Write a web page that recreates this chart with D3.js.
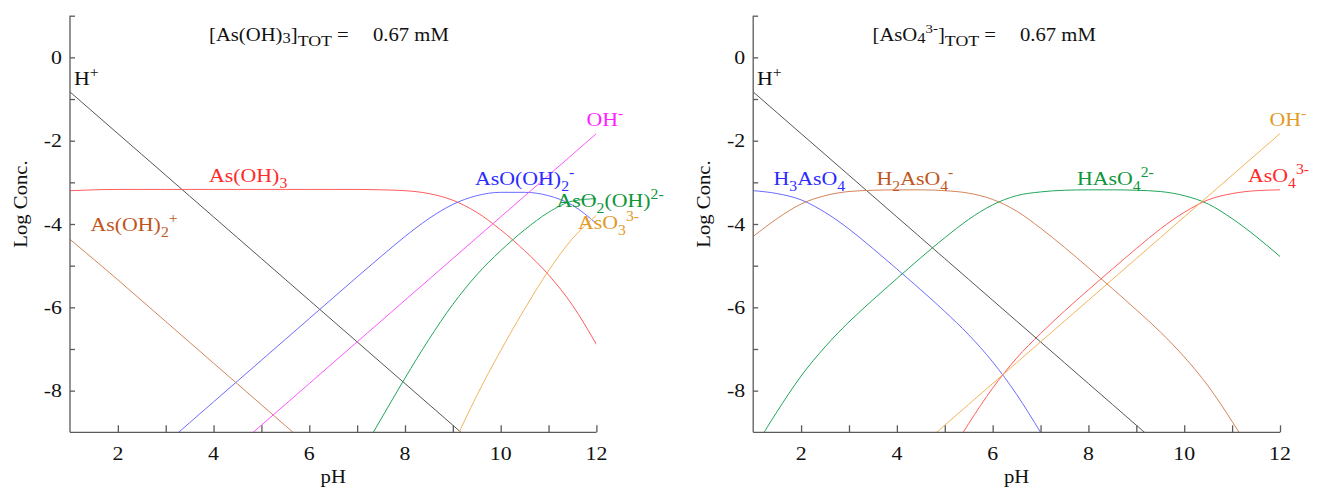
<!DOCTYPE html>
<html>
<head>
<meta charset="utf-8">
<script src="https://cdnjs.cloudflare.com/ajax/libs/d3/7.8.5/d3.min.js"></script>
<style>
  body { margin: 0; background: #fff; }
  svg { font-family: "Liberation Serif", "Times New Roman", serif; }
</style>
</head>
<body>
<div id="chart"></div>
<script>
var pH = [1, 1.5, 2, 2.5, 3, 3.5, 4, 4.5, 5, 5.5, 6, 6.5, 7, 7.5, 8, 8.5, 9, 9.5, 10, 10.5, 11, 11.5, 12];

// common to both panels
var hPlus   = [-0.83, -1.33, -1.83, -2.33, -2.83, -3.33, -3.83, -4.33, -4.83, -5.33, -5.83, -6.33, -6.83, -7.33, -7.83, -8.33, -8.83, -9.33, null, null, null, null, null];
var ohMinus = [null, null, null, null, null, null, null, -9.33, -8.83, -8.33, -7.83, -7.33, -6.83, -6.33, -5.83, -5.33, -4.83, -4.33, -3.83, -3.33, -2.83, -2.33, -1.83];

// arsenite panel
var asOH3     = [-3.20, -3.18, -3.17, -3.17, -3.17, -3.17, -3.17, -3.17, -3.17, -3.17, -3.17, -3.17, -3.17, -3.18, -3.20, -3.27, -3.43, -3.72, -4.14, -4.64, -5.22, -5.95, -6.89];
var asOH2plus = [-4.37, -4.85, -5.34, -5.84, -6.34, -6.84, -7.34, -7.84, -8.34, -8.84, -9.34, null, null, null, null, null, null, null, null, null, null, null, null];
var asOOH2    = [-11.30, -10.78, -10.27, -9.77, -9.27, -8.77, -8.27, -7.77, -7.27, -6.77, -6.27, -5.77, -5.27, -4.78, -4.30, -3.87, -3.53, -3.32, -3.24, -3.24, -3.32, -3.55, -3.99];
var asO2OH    = [null, null, null, null, null, null, null, null, null, null, -11.67, -10.67, -9.67, -8.68, -7.70, -6.77, -5.93, -5.22, -4.64, -4.14, -3.72, -3.45, -3.39];
var asO3      = [null, null, null, null, null, null, null, null, null, null, null, null, null, null, -12.10, -10.67, -9.33, -8.12, -7.04, -6.04, -5.12, -4.35, -3.79];

// arsenate panel
var h3AsO4 = [-3.20, -3.27, -3.42, -3.72, -4.12, -4.59, -5.08, -5.58, -6.10, -6.66, -7.31, -8.09, -9.00, -9.96, null, null, null, null, null, null, null, null, null];
var h2AsO4 = [-4.30, -3.87, -3.52, -3.32, -3.22, -3.19, -3.18, -3.18, -3.20, -3.26, -3.41, -3.69, -4.10, -4.56, -5.05, -5.55, -6.06, -6.59, -7.19, -7.89, -8.74, -9.67, -10.65];
var hAsO4  = [-9.43, -8.50, -7.65, -6.95, -6.35, -5.82, -5.31, -4.81, -4.33, -3.89, -3.54, -3.32, -3.23, -3.19, -3.18, -3.18, -3.19, -3.22, -3.32, -3.52, -3.87, -4.30, -4.78];
var asO4   = [null, null, null, null, null, null, -11.71, -10.71, -9.73, -8.79, -7.94, -7.22, -6.63, -6.09, -5.58, -5.08, -4.59, -4.12, -3.72, -3.42, -3.27, -3.20, -3.18];

// tick labels
var xTickLabels = [2, 4, 6, 8, 10, 12];
var yTickLabels = [0, -2, -4, -6, -8];
var totalText = "0.67 mM";

var width = 1319, height = 491;
var stretch = 1.15;

var col = {
  black:   ["#555555", "#111111"],
  red:     ["#ff5c5c", "#ff2a2a"],
  brown:   ["#d4845a", "#c0561c"],
  blue:    ["#6b6bff", "#2b2bff"],
  magenta: ["#ff55ff", "#ff1fff"],
  green:   ["#22a55a", "#0f963a"],
  orange:  ["#f2b45a", "#e29a28"]
};

var panels = [
  {
    x0: 70, x1: 596.4,
    title: [["[As(OH)"], ["3", "low"], ["]"], ["TOT", "tot"], [" ="]], titleX: 209, valueX: 373,
    series: [
      {v: hPlus, c: "black", lab: [["H"], ["+", "sup"]], lx: 74, ly: 85},
      {v: asOH3, c: "red", lab: [["As(OH)"], ["3", "sub"]], lx: 209, ly: 182},
      {v: asOH2plus, c: "brown", lab: [["As(OH)"], ["2", "sub"], ["+", "sup"]], lx: 90.5, ly: 231},
      {v: asOOH2, c: "blue", lab: [["AsO(OH)"], ["2", "sub"], ["-", "sup"]], lx: 475, ly: 185},
      {v: ohMinus, c: "magenta", lab: [["OH"], ["-", "sup"]], lx: 586.5, ly: 126},
      {v: asO2OH, c: "green", lab: [["AsO"], ["2", "sub"], ["(OH)"], ["2-", "sup"]], lx: 556.5, ly: 207},
      {v: asO3, c: "orange", lab: [["AsO"], ["3", "sub"], ["3-", "sup"]], lx: 578, ly: 229}
    ]
  },
  {
    x0: 753.2, x1: 1280,
    title: [["[AsO"], ["4", "low"], ["3-", "sup"], ["]"], ["TOT", "tot"], [" ="]], titleX: 872.5, valueX: 1020,
    series: [
      {v: hPlus, c: "black", lab: [["H"], ["+", "sup"]], lx: 757, ly: 85},
      {v: h3AsO4, c: "blue", lab: [["H"], ["3", "sub"], ["AsO"], ["4", "sub"]], lx: 773.5, ly: 185},
      {v: h2AsO4, c: "brown", lab: [["H"], ["2", "sub"], ["AsO"], ["4", "sub"], ["-", "sup"]], lx: 876.5, ly: 185},
      {v: hAsO4, c: "green", lab: [["HAsO"], ["4", "sub"], ["2-", "sup"]], lx: 1077, ly: 185},
      {v: asO4, c: "red", lab: [["AsO"], ["4", "sub"], ["3-", "sup"]], lx: 1248, ly: 182},
      {v: ohMinus, c: "orange", lab: [["OH"], ["-", "sup"]], lx: 1269.5, ly: 126}
    ]
  }
];

var yTop = 15.7, yBottom = 432.3;

var svg = d3.select("#chart")
    .append("svg")
    .attr("width", width)
    .attr("height", height);

// text with sub- and superscripts, slightly widened like the original
function label(g, x, y, parts, color, size, anchor) {
  var t = g.append("text")
      .attr("transform", "translate(" + x + "," + y + ") scale(" + stretch + ",1)")
      .attr("font-size", size)
      .attr("fill", color)
      .attr("text-anchor", anchor || "start");
  var shift = 0;
  parts.forEach(function(p) {
    var kind = p[1] || "n";
    var target = 0, fs = size;
    if (kind == "sub") { target = 0.3 * size; fs = 0.72 * size; }
    if (kind == "tot") { target = 0.28 * size; fs = 0.86 * size; }
    if (kind == "low") { target = 0.12 * size; fs = 0.8 * size; }
    if (kind == "sup") { target = -0.42 * size; fs = 0.72 * size; }
    t.append("tspan")
        .attr("dy", target - shift)
        .attr("font-size", fs)
        .text(p[0]);
    shift = target;
  });
  return t;
}

panels.forEach(function(p, pi) {
  var x = d3.scaleLinear().domain([1, 12]).range([p.x0, p.x1]);
  var y = d3.scaleLinear().domain([-9, 1]).range([yBottom, yTop]);

  var g = svg.append("g").attr("class", "panel");

  g.append("clipPath")
      .attr("id", "clip" + pi)
    .append("rect")
      .attr("x", p.x0)
      .attr("y", yTop)
      .attr("width", p.x1 - p.x0)
      .attr("height", yBottom - yTop);

  // curves
  var line = d3.line()
      .defined(function(d) { return d[1] != null; })
      .x(function(d) { return x(d[0]); })
      .y(function(d) { return y(d[1]); })
      .curve(d3.curveMonotoneX);

  p.series.forEach(function(s) {
    g.append("path")
        .datum(pH.map(function(v, i) { return [v, s.v[i]]; }))
        .attr("clip-path", "url(#clip" + pi + ")")
        .attr("fill", "none")
        .attr("stroke", col[s.c][0])
        .attr("stroke-width", 1)
        .attr("d", line);
  });

  // axes: ticks point inward, labels only on even values
  var xAxis = d3.axisTop(x)
      .tickValues(d3.range(2, 13))
      .tickSize(7)
      .tickFormat("");
  g.append("g")
      .attr("transform", "translate(0," + yBottom + ")")
      .call(xAxis)
      .call(function(a) {
        a.select(".domain").attr("d", "M" + p.x0 + ",0H" + p.x1);
        a.selectAll("line, path").attr("stroke", "#5a5a5a").attr("stroke-width", 1.3);
      });

  var yAxis = d3.axisRight(y)
      .tickValues(d3.range(-8, 2))
      .tickSize(5)
      .tickFormat("");
  g.append("g")
      .attr("transform", "translate(" + p.x0 + ",0)")
      .call(yAxis)
      .call(function(a) {
        a.select(".domain").attr("d", "M0," + yTop + "V" + yBottom);
        a.selectAll("line, path").attr("stroke", "#5a5a5a").attr("stroke-width", 1.3);
      });

  xTickLabels.forEach(function(t) {
    label(g, x(t), yBottom + 28, [[String(t)]], "#111", 19, "middle");
  });
  yTickLabels.forEach(function(t) {
    label(g, p.x0 - 8, y(t) + 6.5, [[String(t)]], "#111", 19, "end");
  });

  // axis titles
  label(g, (p.x0 + p.x1) / 2, 483, [["pH"]], "#111", 18, "middle");
  g.append("text")
      .attr("transform", "translate(" + (p.x0 - 43) + ",204) rotate(-90) scale(" + stretch + ",1)")
      .attr("text-anchor", "middle")
      .attr("font-size", 18)
      .attr("fill", "#111")
      .text("Log Conc.");

  // total concentration
  label(g, p.titleX, 41, p.title, "#111", 18);
  label(g, p.valueX, 41, [[totalText]], "#111", 18);

  // species labels
  p.series.forEach(function(s) {
    label(g, s.lx, s.ly, s.lab, col[s.c][1], 19);
  });
});
</script>
</body>
</html>
